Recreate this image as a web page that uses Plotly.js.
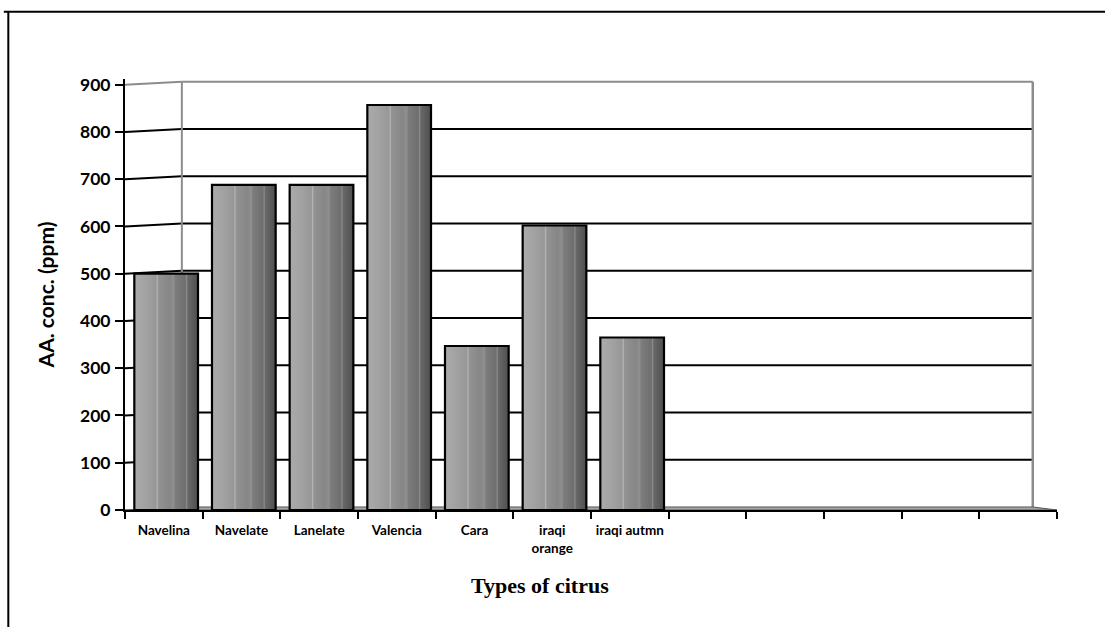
<!DOCTYPE html>
<html><head><meta charset="utf-8">
<script src="https://cdn.plot.ly/plotly-3.0.1.min.js"></script>
<style>html,body{margin:0;padding:0;background:#fff;}#chart{width:1105px;height:627px;}</style>
</head><body><div id="chart"></div>
<script>
// ---- data ----
const categories = ['Navelina', 'Navelate', 'Lanelate', 'Valencia', 'Cara', 'iraqi<br>orange', 'iraqi autmn'];
const values = [500, 688, 688, 857, 347, 602, 365];
const emptySlots = [' ', '  ', '   ', '    ', '     '];
const yTickVals = [0, 100, 200, 300, 400, 500, 600, 700, 800, 900];
const xTitle = 'Types of citrus';
const yTitle = 'AA. conc. (ppm)';

// ---- build ----
const xCats = categories.concat(emptySlots);
const yVals = values.concat(emptySlots.map(() => null));

const backL = 0.061, backR = 0.974, depthY = 6.4; // wall geometry (paper x, data y)
const yMax = 912;
const shapes = [];
yTickVals.forEach(v => {
  if (v === 0) return;
  const col = v === 900 ? '#8c8c8c' : '#000';
  shapes.push({type:'line', layer:'below', xref:'paper', yref:'y', x0:0, y0:v, x1:backL, y1:v+depthY, line:{color:col, width:2}});
  shapes.push({type:'line', layer:'below', xref:'paper', yref:'y', x0:backL, y0:v+depthY, x1:backR, y1:v+depthY, line:{color:col, width:2}});
});
// back wall edges
shapes.push({type:'line', layer:'below', xref:'paper', yref:'y', x0:backL, y0:depthY, x1:backL, y1:900+depthY, line:{color:'#8c8c8c', width:2}});
shapes.push({type:'line', layer:'below', xref:'paper', yref:'y', x0:backR, y0:depthY, x1:backR, y1:900+depthY, line:{color:'#8c8c8c', width:2.5}});
// floor
shapes.push({type:'path', layer:'below', xref:'paper', yref:'y',
  path:'M 0,0 L '+backL+','+depthY+' L '+backR+','+depthY+' L 1,0 Z', fillcolor:'#a6a6a6', line:{color:'#555', width:1}});
// outer frame
shapes.push({type:'line', xref:'paper', yref:'paper', x0:-0.13, y0:1.156, x1:1.06, y1:1.156, line:{color:'#000', width:2}});
shapes.push({type:'line', xref:'paper', yref:'paper', x0:-0.1252, y0:1.158, x1:-0.1252, y1:-0.3, line:{color:'#000', width:2}});

const trace = {
  type:'bar', x:xCats, y:yVals, width:0.82, offset:-0.38,
  marker:{color:'#888', line:{color:'#000', width:2.2}},
  hoverinfo:'x+y'
};

const layout = {
  width:1105, height:627,
  margin:{l:125, r:48, t:79, b:117},
  paper_bgcolor:'#fff', plot_bgcolor:'rgba(0,0,0,0)',
  showlegend:false,
  font:{family:'Lato, Noto Sans, sans-serif', color:'#000'},
  xaxis:{type:'category', categoryorder:'array', categoryarray:xCats,
    showline:true, linecolor:'#000', linewidth:2, showgrid:false, zeroline:false,
    ticks:'outside', tickson:'boundaries', ticklen:7, tickwidth:2, tickcolor:'#000',
    ticklabelstandoff:7,
    tickfont:{family:'Lato', size:13.5, weight:'bold', color:'#000'}, tickangle:0, fixedrange:true},
  yaxis:{range:[0, yMax], tickvals:yTickVals, showline:true, linecolor:'#000', linewidth:2,
    showgrid:false, zeroline:false, ticks:'outside', ticklen:8, tickwidth:2, tickcolor:'#000',
    tickfont:{family:'Lato', size:17.5, weight:'bold', color:'#000'}, ticklabelstandoff:1,
    title:{text:yTitle, font:{family:'Lato', size:21, weight:'bold', color:'#000'}, standoff:20}},
  shapes:shapes,
  annotations:[{xref:'paper', yref:'paper', x:(540-125)/932, y:(510-585)/431, text:xTitle, showarrow:false,
    xanchor:'center', yanchor:'middle', font:{family:'Liberation Serif, Times New Roman, serif', size:22, weight:'bold', color:'#000'}}]
};

Plotly.newPlot('chart', [trace], layout, {displayModeBar:false, staticPlot:true}).then(gd => {
  const svg = gd.querySelector('svg.main-svg');
  const ns = 'http://www.w3.org/2000/svg';
  let defs = svg.querySelector('defs');
  if (!defs) { defs = document.createElementNS(ns, 'defs'); svg.insertBefore(defs, svg.firstChild); }
  const g = document.createElementNS(ns, 'linearGradient');
  g.setAttribute('id', 'barGrad'); g.setAttribute('x1', '0'); g.setAttribute('y1', '0'); g.setAttribute('x2', '1'); g.setAttribute('y2', '0');
  const stops = [[0,'#ababab'],[0.18,'#a2a2a2'],[0.34,'#979797'],[0.36,'#b4b4b4'],[0.38,'#939393'],[0.55,'#868686'],[0.62,'#8f8f8f'],[0.64,'#7d7d7d'],[0.8,'#6e6e6e'],[0.82,'#8a8a8a'],[0.84,'#686868'],[1,'#4e4e4e']];
  stops.forEach(s => { const st = document.createElementNS(ns, 'stop'); st.setAttribute('offset', s[0]); st.setAttribute('stop-color', s[1]); g.appendChild(st); });
  defs.appendChild(g);
  gd.querySelectorAll('.barlayer .point path').forEach(p => { p.style.fill = 'url(#barGrad)'; });
});
</script>
</body></html>
